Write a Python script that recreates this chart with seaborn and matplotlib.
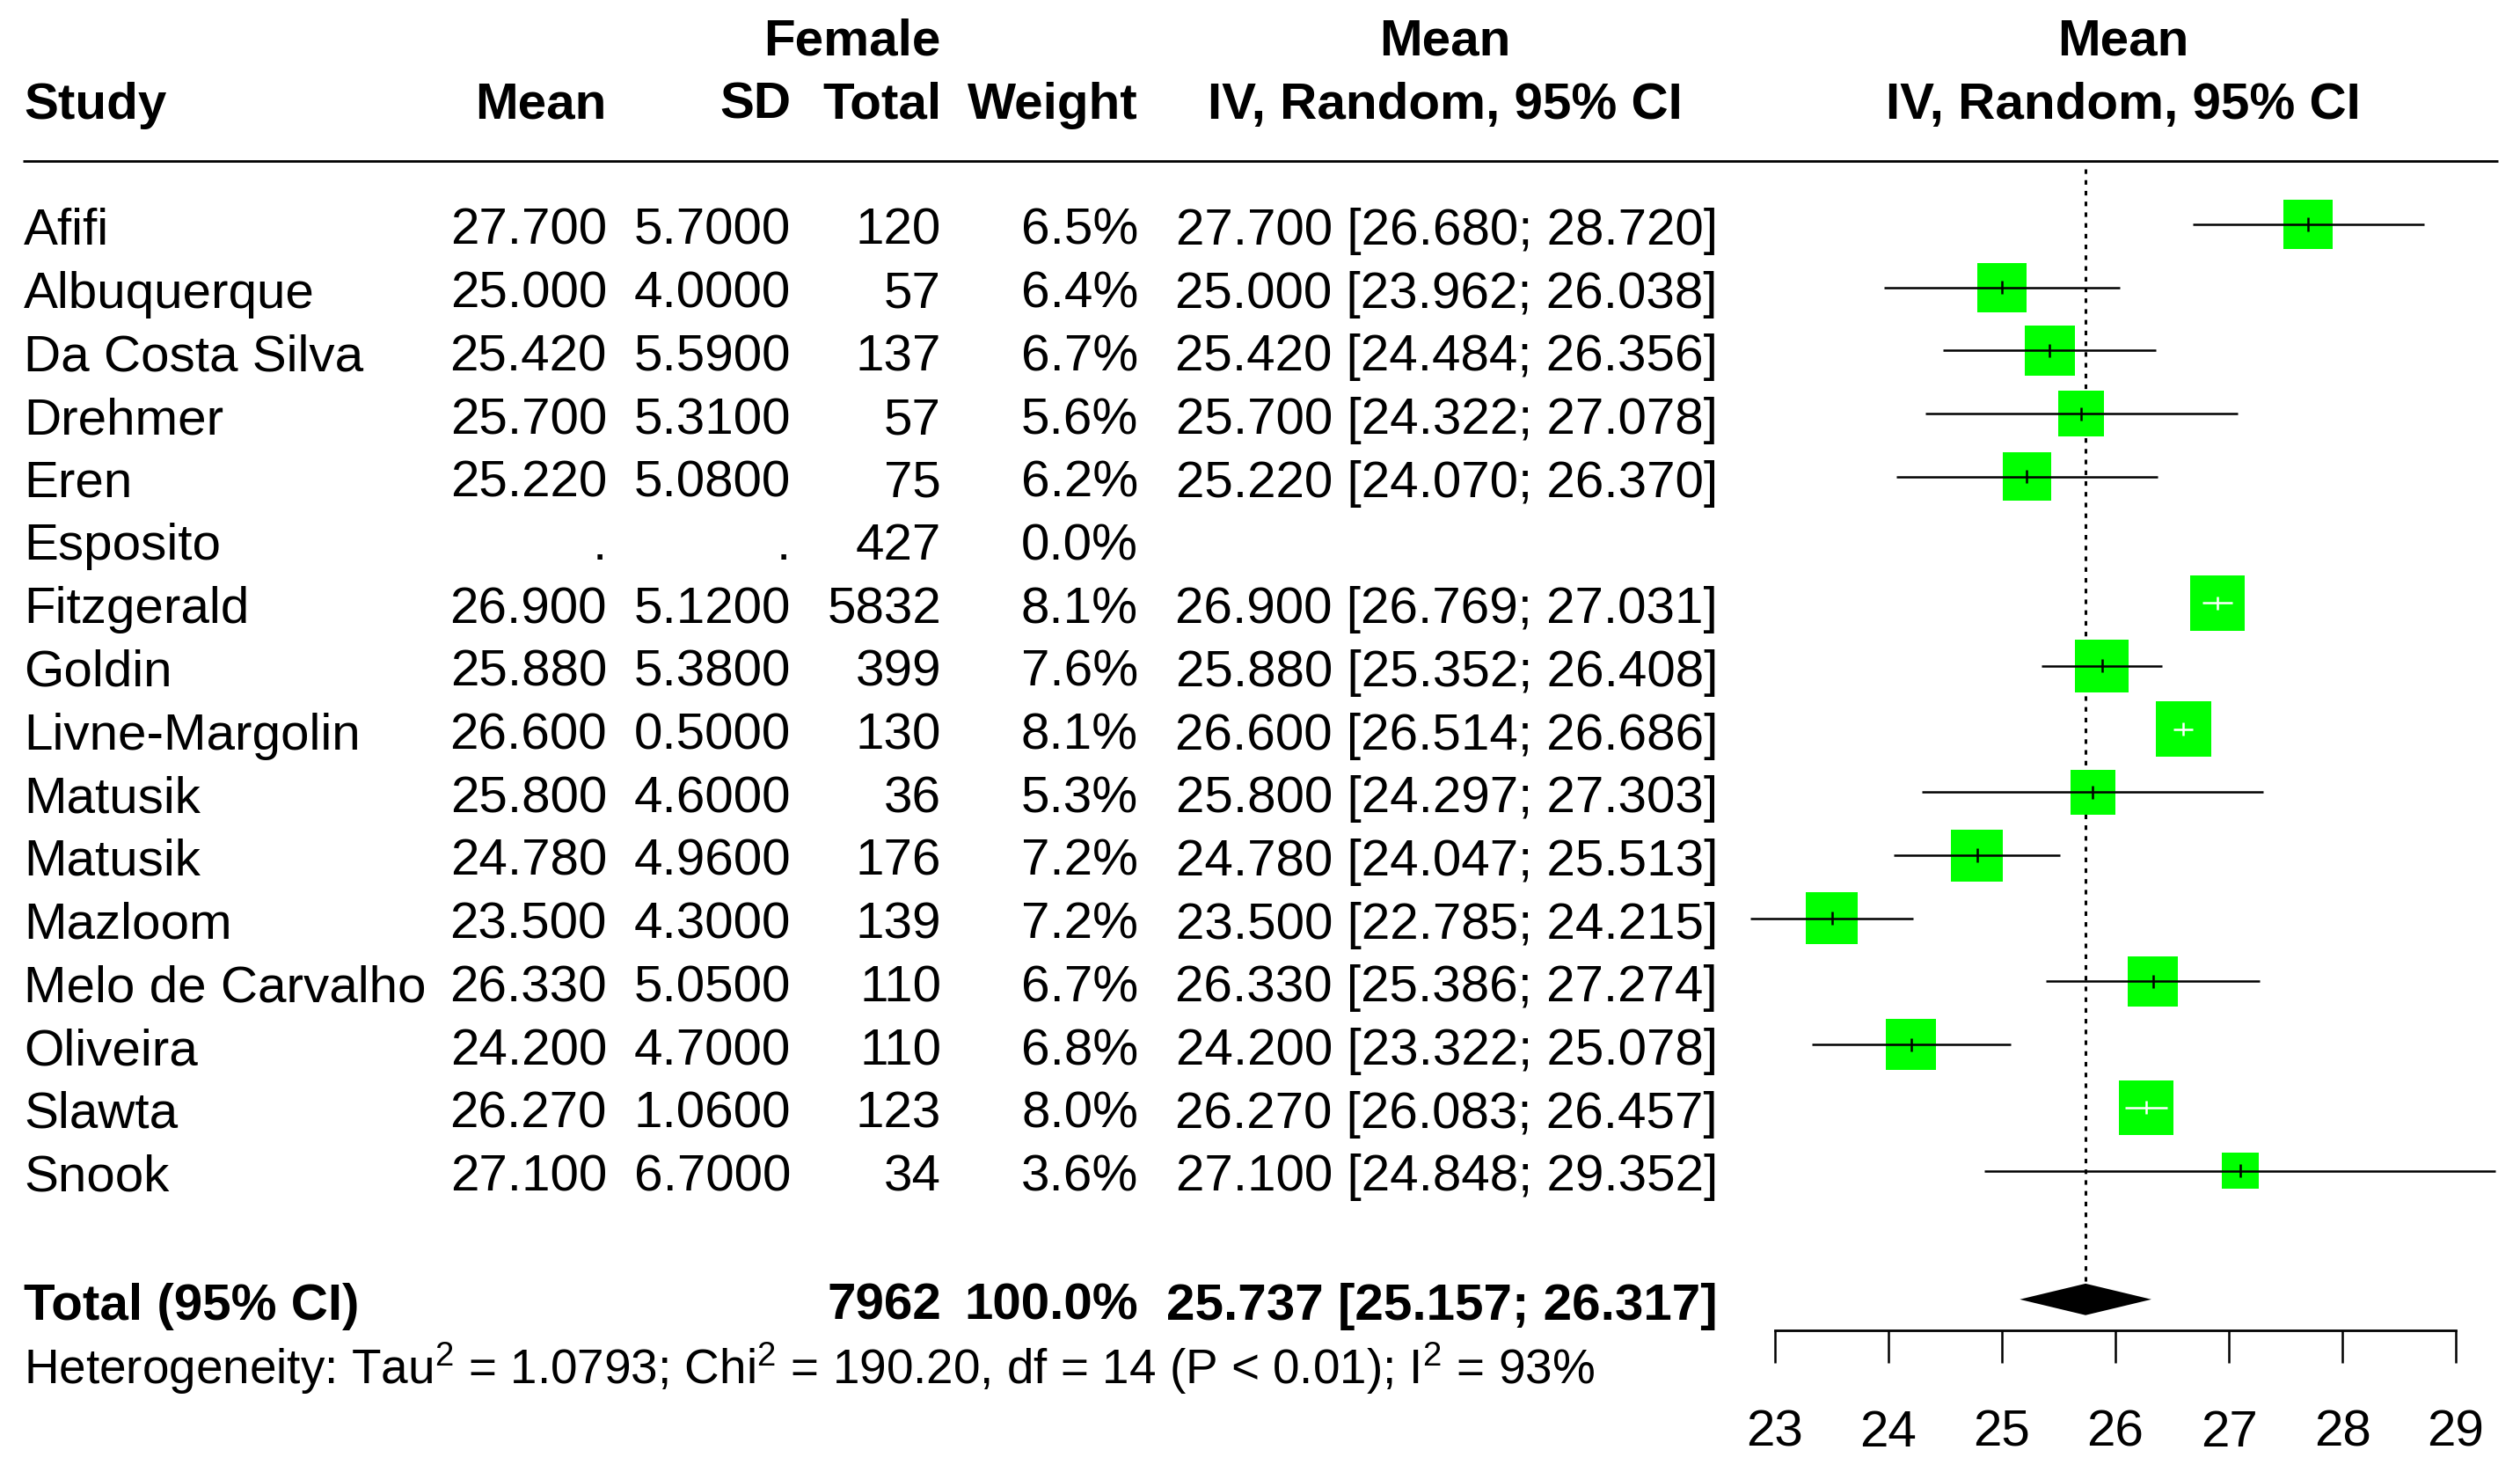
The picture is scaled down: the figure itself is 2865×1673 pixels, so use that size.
import numpy as np
import pandas as pd
import seaborn as sns
import matplotlib.pyplot as plt

# study level data (female BMI, mean / SD / n, random effects weights)
studies = ['Afifi', 'Albuquerque', 'Da Costa Silva', 'Drehmer', 'Eren', 'Esposito',
           'Fitzgerald', 'Goldin', 'Livne-Margolin', 'Matusik', 'Matusik', 'Mazloom',
           'Melo de Carvalho', 'Oliveira', 'Slawta', 'Snook']
means = [27.700, 25.000, 25.420, 25.700, 25.220, np.nan, 26.900, 25.880, 26.600,
         25.800, 24.780, 23.500, 26.330, 24.200, 26.270, 27.100]
sds = [5.7000, 4.0000, 5.5900, 5.3100, 5.0800, np.nan, 5.1200, 5.3800, 0.5000,
       4.6000, 4.9600, 4.3000, 5.0500, 4.7000, 1.0600, 6.7000]
totals = [120, 57, 137, 57, 75, 427, 5832, 399, 130, 36, 176, 139, 110, 110, 123, 34]
weights = [6.5, 6.4, 6.7, 5.6, 6.2, 0.0, 8.1, 7.6, 8.1, 5.3, 7.2, 7.2, 6.7, 6.8, 8.0, 3.6]
lowers = [26.680, 23.962, 24.484, 24.322, 24.070, np.nan, 26.769, 25.352, 26.514,
          24.297, 24.047, 22.785, 25.386, 23.322, 26.083, 24.848]
uppers = [28.720, 26.038, 26.356, 27.078, 26.370, np.nan, 27.031, 26.408, 26.686,
          27.303, 25.513, 24.215, 27.274, 25.078, 26.457, 29.352]

pooled_mean = 25.737
pooled_lower = 25.157
pooled_upper = 26.317
pooled_total = 7962
pooled_weight = 100.0
het_text = (r'Heterogeneity: $\mathregular{Tau^2}$ = 1.0793; $\mathregular{Chi^2}$ = 190.20, '
            r'df = 14 (P < 0.01); $\mathregular{I^2}$ = 93%')
x_ticks = [23, 24, 25, 26, 27, 28, 29]

df = pd.DataFrame({'study': studies, 'mean': means, 'sd': sds, 'total': totals,
                   'weight': weights, 'lower': lowers, 'upper': uppers})
df['row'] = np.arange(len(df))

sns.set_theme(style='ticks')
plt.rcParams['font.family'] = ['Liberation Sans', 'DejaVu Sans']
plt.rcParams['mathtext.fontset'] = 'custom'
plt.rcParams['mathtext.rm'] = 'Liberation Sans'

W, H = 2865, 1673
fig = plt.figure(figsize=(W / 100, H / 100), dpi=100)
ylim = (19.776, -3.556)

# table axes: x in pixels, y in rows
ax = fig.add_axes([0, 0, 1, 1])
ax.set_xlim(0, W)
ax.set_ylim(*ylim)
ax.axis('off')

# forest axes
fx0, fx1 = 2018, 2792
fax = fig.add_axes([fx0 / W, 0, (fx1 - fx0) / W, 1])
fax.set_xlim(23, 29)
fax.set_ylim(*ylim)
fax.patch.set_alpha(0)

fs = 42
col_study = 27
col_mean = 690
col_sd = 899
col_total = 1070
col_weight = 1294
col_ci = 1953
col_ci_head = 1643
col_forest_head = 2414
base = 0.32

def txt(x, y, s, ha='left', bold=False, size=fs):
    ax.text(x, y, s, ha=ha, va='baseline', fontsize=size,
            fontweight='bold' if bold else 'normal', color='black')

# headers
txt(col_total, -2.68, 'Female', ha='right', bold=True)
txt(col_ci_head, -2.68, 'Mean', ha='center', bold=True)
txt(col_forest_head, -2.68, 'Mean', ha='center', bold=True)
txt(col_study, -1.674, 'Study', bold=True)
txt(col_mean, -1.674, 'Mean', ha='right', bold=True)
txt(col_sd, -1.674, 'SD', ha='right', bold=True)
txt(col_total, -1.674, 'Total', ha='right', bold=True)
txt(col_weight, -1.674, 'Weight', ha='right', bold=True)
txt(col_ci_head, -1.674, 'IV, Random, 95% CI', ha='center', bold=True)
txt(col_forest_head, -1.674, 'IV, Random, 95% CI', ha='center', bold=True)
ax.plot([26, 2840], [-1.0, -1.0], color='black', lw=2, solid_capstyle='butt')

# study rows
for _, r in df.iterrows():
    y = r['row'] + base
    txt(col_study, y, r['study'])
    txt(col_mean, y, '.' if np.isnan(r['mean']) else f"{r['mean']:.3f}", ha='right')
    txt(col_sd, y, '.' if np.isnan(r['sd']) else f"{r['sd']:.4f}", ha='right')
    txt(col_total, y, f"{r['total']}", ha='right')
    txt(col_weight, y, f"{r['weight']:.1f}%", ha='right')
    if not np.isnan(r['mean']):
        txt(col_ci, y, f"{r['mean']:.3f} [{r['lower']:.3f}; {r['upper']:.3f}]", ha='right')

# total row
total_row = len(df) + 1
txt(col_study, total_row + 0.36, 'Total (95% CI)', bold=True)
txt(col_total, total_row + 0.36, f'{pooled_total}', ha='right', bold=True)
txt(col_weight, total_row + 0.36, f'{pooled_weight:.1f}%', ha='right', bold=True)
txt(col_ci, total_row + 0.36,
    f'{pooled_mean:.3f} [{pooled_lower:.3f}; {pooled_upper:.3f}]', ha='right', bold=True)
txt(col_study, total_row + 1.38, het_text, size=39.5)

# forest: squares sized by weight (area proportional to weight)
d = df.dropna(subset=['mean']).copy()
px_per_unit = (fx1 - fx0) / (29 - 23)
side_px = 22.0 * np.sqrt(d['weight'])
d['s'] = (side_px * 0.72) ** 2
inside = (d['upper'] - d['lower']) * px_per_unit < side_px
d['lc'] = np.where(inside, 'white', 'black')

sns.scatterplot(data=d, x='mean', y='row', marker='s', s=d['s'].values,
                color='#00FF00', linewidth=0, legend=False, ax=fax, zorder=2,
                clip_on=False)
fax.hlines(d['row'], d['lower'], d['upper'], colors=d['lc'], lw=1.8,
           zorder=3, clip_on=False)
fax.vlines(d['mean'], d['row'] - 0.105, d['row'] + 0.105, colors=d['lc'], lw=1.8,
           zorder=3, clip_on=False)

# pooled estimate line and diamond
fax.vlines(pooled_mean, -0.88, 16.79, colors='black', lw=2.2,
           linestyles=(0, (1.7, 2.3)), zorder=1)
fax.fill([pooled_lower, pooled_mean, pooled_upper, pooled_mean],
         [total_row + 0.04, total_row - 0.21, total_row + 0.04, total_row + 0.29],
         color='black', lw=0, zorder=3)

# x axis
for side in ['top', 'left', 'right']:
    fax.spines[side].set_visible(False)
fax.spines['bottom'].set_position(('data', 17.53))
fax.spines['bottom'].set_color('black')
fax.spines['bottom'].set_linewidth(2)
fax.set_xticks(x_ticks)
fax.set_xticklabels([str(t) for t in x_ticks])
fax.set_yticks([])
fax.tick_params(axis='x', bottom=True, direction='out', length=26.6, width=1.8,
                color='black', labelsize=fs, labelcolor='black', pad=38)
fax.set_xlabel('')
fax.set_ylabel('')

fig.savefig('out.png', dpi=100)
